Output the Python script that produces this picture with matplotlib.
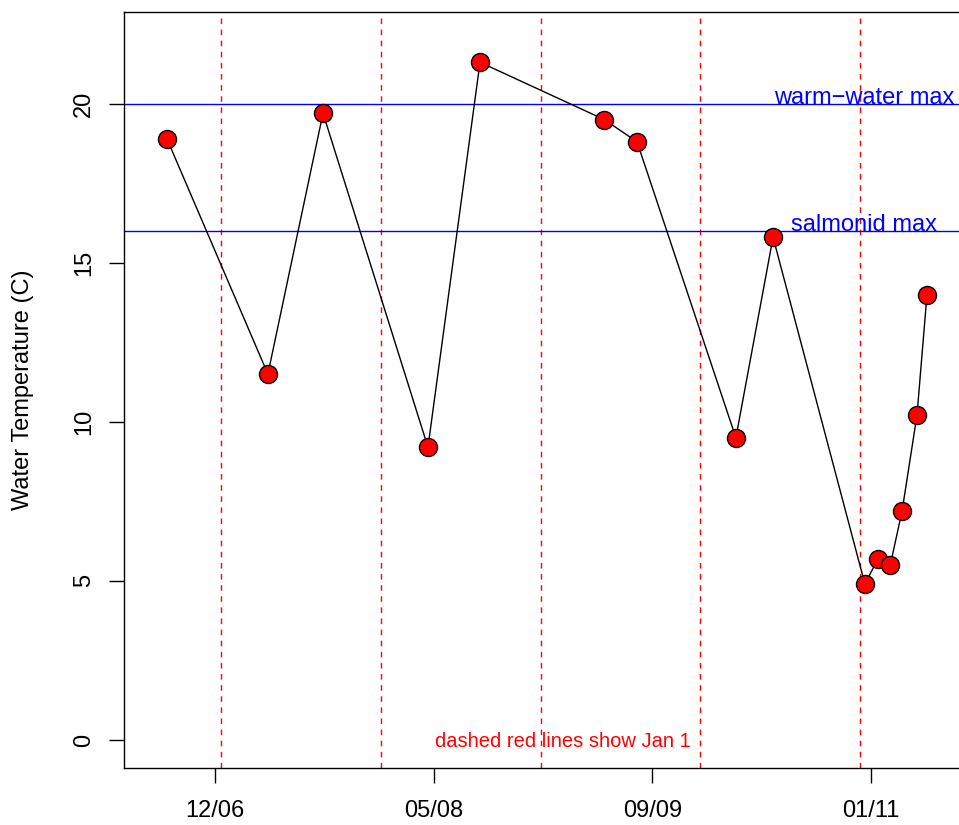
import numpy as np
import matplotlib
matplotlib.use('Agg')
import matplotlib.pyplot as plt

plt.rcParams['font.family'] = ['Liberation Sans', 'DejaVu Sans']

# sampling dates and water temperatures
dates = ['2006-08-30', '2007-04-18', '2007-08-22', '2008-04-18', '2008-08-15',
         '2009-05-26', '2009-08-09', '2010-03-23', '2010-06-16', '2011-01-12',
         '2011-02-11', '2011-03-11', '2011-04-07', '2011-05-11', '2011-06-03']
temps = [18.9, 11.5, 19.7, 9.2, 21.3, 19.5, 18.8, 9.5, 15.8, 4.9,
         5.7, 5.5, 7.2, 10.2, 14.0]
jan_firsts = ['2007-01-01', '2008-01-01', '2009-01-01', '2010-01-01', '2011-01-01']
tick_days = [13500, 14000, 14500, 15000]
tick_labels = ['12/06', '05/08', '09/09', '01/11']
y_ticks = [0, 5, 10, 15, 20]
limits = {'warm\u2212water max': 20, 'salmonid max': 16}


def to_days(d):
    return np.array(d, dtype='datetime64[D]').astype(int)


x = to_days(dates)
jan = to_days(jan_firsts)

fig = plt.figure(figsize=(9.59, 8.25), dpi=100)
ax = fig.add_axes([124 / 959, 1 - 768 / 825, 845 / 959, 756 / 825])

for d in jan:
    ax.axvline(d, color='red', ls=(0, (4, 4)), lw=1)
for label, y in limits.items():
    ax.axhline(y, color='blue', lw=1)
    ax.text(14985, y, label, color='blue', ha='center', va='baseline', fontsize=17)

ax.plot(x, temps, color='black', lw=1, zorder=3)
ax.plot(x, temps, 'o', ms=13, mfc='red', mec='black', mew=1, zorder=4)

ax.text(14296, -0.35, 'dashed red lines show Jan 1', color='red', ha='center',
        va='bottom', fontsize=14.5)

ax.set_xlim(13292, 15224)
ax.set_ylim(-0.88, 22.88)
ax.set_xticks(tick_days)
ax.set_xticklabels(tick_labels)
ax.set_yticks(y_ticks)
ax.set_yticklabels([str(v) for v in y_ticks], rotation=90, va='center')
ax.tick_params(length=11, width=1, labelsize=17, pad=10)
ax.tick_params(axis='x', pad=12)
ax.set_ylabel('Water Temperature (C)', fontsize=17, labelpad=28)
for s in ax.spines.values():
    s.set_linewidth(1)

fig.savefig('out.png', dpi=100)
